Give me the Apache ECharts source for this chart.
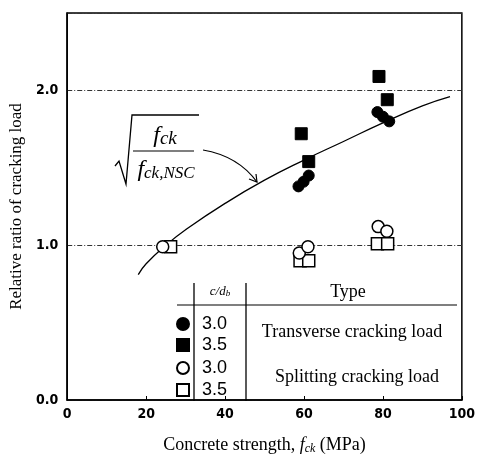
<!DOCTYPE html>
<html>
<head>
<meta charset="utf-8">
<script src="https://cdn.jsdelivr.net/npm/echarts@6/dist/echarts.min.js"></script>
<style>html,body{margin:0;padding:0;background:#fff;}#c{width:478px;height:460px;}</style>
</head>
<body>
<div id="c"></div>
<script>
// ---- data ----
var xTicks = [0, 20, 40, 60, 80, 100];
var yTicks = [0.0, 1.0, 2.0];

// curve sqrt(fck / fck,NSC)
var curveX = [18, 20, 25, 30, 40, 50, 60, 70, 80, 90, 97];
var curveY = [0.81, 0.88, 1.00, 1.10, 1.27, 1.42, 1.55, 1.67, 1.79, 1.90, 1.96];

// Transverse cracking load, c/db = 3.0
var trans30X = [58.6, 59.9, 61.2, 78.6, 80.0, 81.6];
var trans30Y = [1.38, 1.41, 1.45, 1.86, 1.83, 1.80];
// Transverse cracking load, c/db = 3.5
var trans35X = [59.3, 61.2, 79.0, 81.1];
var trans35Y = [1.72, 1.54, 2.09, 1.94];
// Splitting cracking load, c/db = 3.0
var split30X = [24.2, 58.8, 61.0, 78.8, 81.0];
var split30Y = [0.99, 0.95, 0.99, 1.12, 1.09];
// Splitting cracking load, c/db = 3.5
var split35X = [26.2, 59.0, 61.2, 78.6, 81.2];
var split35Y = [0.99, 0.90, 0.90, 1.01, 1.01];

function pairs(xs, ys) { return xs.map(function (x, i) { return [x, ys[i]]; }); }

var chart = echarts.init(document.getElementById('c'), null, {renderer: 'canvas'});
var serif = "'Liberation Serif', 'Times New Roman', serif";
var sans = "'Liberation Sans', Arial, sans-serif";
var narrow = "'Liberation Sans Narrow', 'DejaVu Sans Condensed', 'Liberation Sans', sans-serif";

var filled = {color: '#000', borderColor: '#000', borderWidth: 1, opacity: 1};
var hollow = {color: '#fff', borderColor: '#000', borderWidth: 1.5, opacity: 1};

function legendAt(name, top, icon, label) {
  return {
    data: [name], left: 176, top: top, orient: 'vertical',
    icon: icon, itemWidth: 12, itemHeight: 12, padding: 0, selectedMode: false,
    formatter: function () { return label; },
    textStyle: {fontFamily: sans, fontSize: 18, color: '#000', padding: [0, 0, 0, 8]}
  };
}

chart.setOption({
  animation: false,
  backgroundColor: '#fff',
  grid: {left: 64, right: 9, top: 13, bottom: 57, show: true, borderColor: '#000', borderWidth: 1.5, backgroundColor: 'transparent'},
  xAxis: {
    type: 'value', min: xTicks[0], max: xTicks[xTicks.length - 1], interval: 20,
    name: '{t|Concrete strength, }{i|f}{s|ck}{t| (MPa)}', nameLocation: 'middle', nameGap: 35,
    nameTextStyle: {rich: {
      t: {fontFamily: serif, fontSize: 18, color: '#000'},
      i: {fontFamily: serif, fontSize: 18, fontStyle: 'italic', color: '#000'},
      s: {fontFamily: serif, fontSize: 12, fontStyle: 'italic', color: '#000', verticalAlign: 'bottom', padding: [8, 0, 0, 0]}
    }},
    axisLine: {show: true, lineStyle: {color: '#000', width: 1.5}},
    axisTick: {show: true, inside: true, length: 4, lineStyle: {color: '#000'}},
    axisLabel: {fontFamily: narrow, fontWeight: 'bold', fontSize: 14, color: '#000', margin: 7},
    splitLine: {show: false}
  },
  yAxis: {
    type: 'value', min: 0, max: 2.5, interval: 1,
    name: 'Relative ratio of cracking load', nameLocation: 'middle', nameGap: 32,
    nameTextStyle: {fontFamily: serif, fontSize: 17, color: '#000'},
    axisLine: {show: true, lineStyle: {color: '#000', width: 1.5}},
    axisTick: {show: false},
    axisLabel: {fontFamily: narrow, fontWeight: 'bold', fontSize: 14, color: '#000', margin: 9,
      formatter: function (v) { return yTicks.indexOf(v) >= 0 ? v.toFixed(1) : ''; }},
    splitLine: {show: true, lineStyle: {color: '#333', width: 1, type: [5, 2, 1, 2]}}
  },
  legend: [
    legendAt('Transverse 3.0', 315, 'circle', '3.0'),
    legendAt('Transverse 3.5', 336, 'rect', '3.5'),
    legendAt('Splitting 3.0', 359, 'circle', '3.0'),
    legendAt('Splitting 3.5', 381, 'rect', '3.5')
  ],
  series: [
    {name: 'curve', type: 'line', data: pairs(curveX, curveY), smooth: true, showSymbol: false,
     lineStyle: {color: '#000', width: 1.3}, z: 2, silent: true},
    {name: 'Splitting 3.5', type: 'scatter', symbol: 'rect', symbolSize: 12, data: pairs(split35X, split35Y), itemStyle: hollow, z: 3},
    {name: 'Splitting 3.0', type: 'scatter', symbol: 'circle', symbolSize: 12, data: pairs(split30X, split30Y), itemStyle: hollow, z: 4},
    {name: 'Transverse 3.0', type: 'scatter', symbol: 'circle', symbolSize: 11, data: pairs(trans30X, trans30Y), itemStyle: filled, z: 5},
    {name: 'Transverse 3.5', type: 'scatter', symbol: 'rect', symbolSize: 12, data: pairs(trans35X, trans35Y), itemStyle: filled, z: 5}
  ],
  graphic: [
    // formula: sqrt(fck / fck,NSC)
    {type: 'polyline', shape: {points: [[115, 166], [119, 161], [126, 184], [132, 115], [199, 115]]},
     style: {stroke: '#000', lineWidth: 1.3, fill: null}, z: 10},
    {type: 'line', shape: {x1: 133, y1: 151, x2: 194, y2: 151}, style: {stroke: '#000', lineWidth: 1.2}, z: 10},
    {type: 'text', x: 165, y: 136, z: 10,
     style: {text: '{f|f}{s|ck}', align: 'center', verticalAlign: 'middle',
       rich: {f: {fontFamily: serif, fontSize: 24, fontStyle: 'italic', fill: '#000'},
              s: {fontFamily: serif, fontSize: 19, fontStyle: 'italic', fill: '#000', verticalAlign: 'bottom'}}}},
    {type: 'text', x: 166, y: 170, z: 10,
     style: {text: '{f|f}{s|ck,NSC}', align: 'center', verticalAlign: 'middle',
       rich: {f: {fontFamily: serif, fontSize: 24, fontStyle: 'italic', fill: '#000'},
              s: {fontFamily: serif, fontSize: 17, fontStyle: 'italic', fill: '#000', verticalAlign: 'bottom'}}}},
    // arrow
    {type: 'bezierCurve', shape: {x1: 203, y1: 150, x2: 257, y2: 182, cpx1: 238, cpy1: 156},
     style: {stroke: '#000', lineWidth: 1.2, fill: null}, z: 10},
    {type: 'polyline', shape: {points: [[256, 174], [257, 182], [249, 179]]},
     style: {stroke: '#000', lineWidth: 1.2, fill: null}, z: 10},
    // legend table
    {type: 'line', shape: {x1: 194, y1: 283, x2: 194, y2: 401}, style: {stroke: '#000', lineWidth: 1.3}, z: 10},
    {type: 'line', shape: {x1: 246, y1: 283, x2: 246, y2: 401}, style: {stroke: '#000', lineWidth: 1.3}, z: 10},
    {type: 'line', shape: {x1: 177, y1: 305, x2: 457, y2: 305}, style: {stroke: '#000', lineWidth: 1.2}, z: 10},
    {type: 'text', x: 220, y: 292, z: 10,
     style: {text: '{i|c/d}{s|b}', align: 'center', verticalAlign: 'middle',
       rich: {i: {fontFamily: serif, fontSize: 13, fontStyle: 'italic', fill: '#000'},
              s: {fontFamily: serif, fontSize: 9, fontStyle: 'italic', fill: '#000', verticalAlign: 'bottom'}}}},
    {type: 'text', x: 348, y: 292, z: 10,
     style: {text: 'Type', align: 'center', verticalAlign: 'middle', font: "18px 'Liberation Serif', serif", fill: '#000'}},
    {type: 'text', x: 352, y: 332, z: 10,
     style: {text: 'Transverse cracking load', align: 'center', verticalAlign: 'middle', font: "18px 'Liberation Serif', serif", fill: '#000'}},
    {type: 'text', x: 357, y: 377, z: 10,
     style: {text: 'Splitting cracking load', align: 'center', verticalAlign: 'middle', font: "18px 'Liberation Serif', serif", fill: '#000'}}
  ]
});
</script>
</body>
</html>
